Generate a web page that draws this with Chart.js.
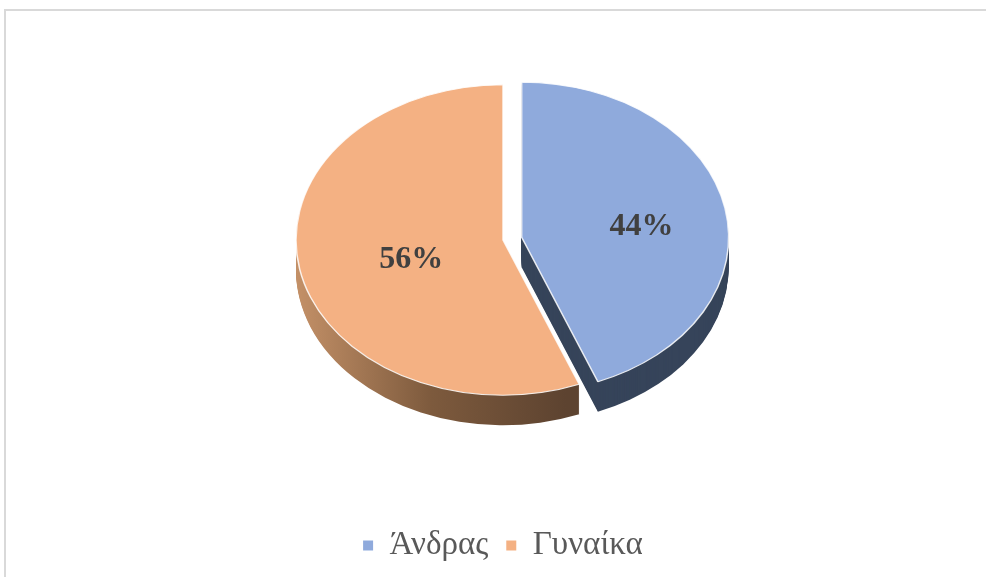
<!DOCTYPE html>
<html lang="el">
<head>
    <meta charset="UTF-8">
    <title>pie</title>
    <script src="https://cdn.jsdelivr.net/npm/chart.js"></script>
    <style>
        body { margin: 0; background: #fff; overflow: hidden; }
        .frame { position: absolute; left: 4px; top: 9px; width: 1000px; height: 600px; border: 2px solid #d9d9d9; }
        canvas { position: absolute; left: 0; top: 0; }
    </style>
</head>
<body>
    <div class="frame"><canvas id="pie" width="994" height="566"></canvas></div>

    <script>
        const labels = ['Άνδρας', 'Γυναίκα'];
        const values = [44, 56];
        const faceColors = ['#8faadc', '#f4b183'];

        // fake 3d look: squash the pie, stack darker copies under it
        const TILT = 0.75;
        const DEPTH = 30;
        const EXPLODE = [19, 0];
        const LIFT = 21;

        function sideFill(ctx, i) {
            if (i === 0) return '#36445a';
            const g = ctx.createLinearGradient(291, 0, 560, 0);
            g.addColorStop(0, '#c39067');
            g.addColorStop(0.5, '#7d5a3d');
            g.addColorStop(1, '#5d4330');
            return g;
        }

        const pie3d = {
            id: 'pie3d',
            beforeDatasetsDraw(chart) {
                const ctx = chart.ctx;
                const arcs = chart.getDatasetMeta(0).data;
                const cx = arcs[0].x, cy = arcs[0].y;

                function drawSlice(arc, i, fill, border, dy) {
                    const p = Object.create(arc);
                    p.options = Object.assign({}, arc.options, {
                        backgroundColor: fill,
                        borderColor: border || fill,
                        borderWidth: border ? 1.5 : 0
                    });
                    const mid = (arc.startAngle + arc.endAngle) / 2;
                    ctx.save();
                    ctx.translate(Math.cos(mid) * EXPLODE[i], Math.sin(mid) * EXPLODE[i] + dy);
                    p.draw(ctx);
                    ctx.restore();
                }

                ctx.save();
                ctx.translate(cx, cy - LIFT);
                ctx.scale(1, TILT);
                ctx.translate(-cx, -cy);
                for (let d = DEPTH; d > 0; d--) {
                    arcs.forEach((a, i) => drawSlice(a, i, sideFill(ctx, i), null, d / TILT));
                }
                arcs.forEach((a, i) => drawSlice(a, i, faceColors[i], 'rgba(255,255,255,0.85)', 0));
                ctx.restore();

                // percentage labels
                const total = values.reduce((s, v) => s + v, 0);
                ctx.save();
                ctx.font = 'bold 32px "Liberation Serif"';
                ctx.fillStyle = '#404040';
                ctx.textAlign = 'center';
                ctx.textBaseline = 'middle';
                arcs.forEach((a, i) => {
                    const mid = (a.startAngle + a.endAngle) / 2;
                    const r = a.outerRadius * 0.52 + EXPLODE[i];
                    const x = cx + 14 + Math.cos(mid) * r;
                    const y = cy - LIFT + 5 + Math.sin(mid) * r * TILT;
                    ctx.fillText(Math.round(values[i] / total * 100) + '%', x, y);
                });
                ctx.restore();
                return false;
            }
        };

        const pieChart = new Chart(document.getElementById('pie'), {
            type: 'pie',
            data: {
                labels: labels,
                datasets: [{
                    data: values,
                    backgroundColor: faceColors,
                    borderWidth: 0,
                    radius: 207
                }]
            },
            options: {
                responsive: false,
                animation: false,
                events: [],
                layout: { padding: { bottom: 5 } },
                plugins: {
                    tooltip: { enabled: false },
                    legend: {
                        position: 'bottom',
                        labels: {
                            boxWidth: 10,
                            boxHeight: 10,
                            padding: 18,
                            color: '#595959',
                            font: { family: '"Liberation Serif"', size: 33 }
                        }
                    }
                }
            },
            plugins: [pie3d]
        });
    </script>
</body>
</html>
